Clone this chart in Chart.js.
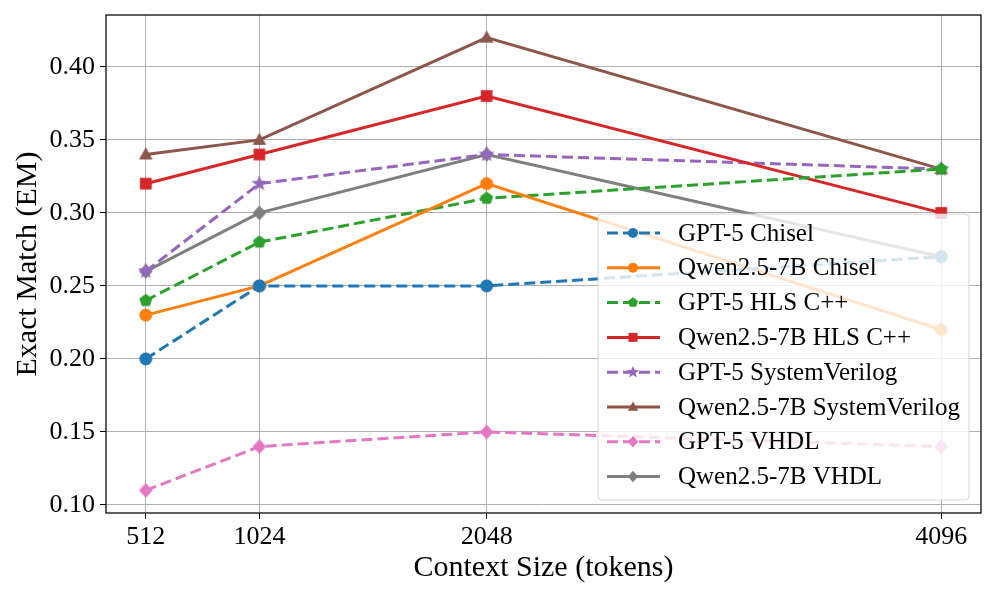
<!DOCTYPE html>
<html>
<head>
<meta charset="utf-8">
<script src="https://cdn.jsdelivr.net/npm/chart.js@4.4.1/dist/chart.umd.min.js"></script>
<style>
  html, body { margin: 0; padding: 0; background: #fff; }
  #wrap { width: 996px; height: 598px; }
</style>
</head>
<body>
<div id="wrap"><canvas id="emChart"></canvas></div>
<script>
const contextSizes = [512, 1024, 2048, 4096];
const yTicks = [0.10, 0.15, 0.20, 0.25, 0.30, 0.35, 0.40];

const gpt5Chisel = [0.20, 0.25, 0.25, 0.27];
const qwenChisel = [0.23, 0.25, 0.32, 0.22];
const gpt5Hls = [0.24, 0.28, 0.31, 0.33];
const qwenHls = [0.32, 0.34, 0.38, 0.30];
const gpt5Sv = [0.26, 0.32, 0.34, 0.33];
const qwenSv = [0.34, 0.35, 0.42, 0.33];
const gpt5Vhdl = [0.11, 0.14, 0.15, 0.14];
const qwenVhdl = [0.26, 0.30, 0.34, 0.27];

const seriesNames = ['GPT-5 Chisel', 'Qwen2.5-7B Chisel', 'GPT-5 HLS C++', 'Qwen2.5-7B HLS C++',
    'GPT-5 SystemVerilog', 'Qwen2.5-7B SystemVerilog', 'GPT-5 VHDL', 'Qwen2.5-7B VHDL'];
const seriesValues = [gpt5Chisel, qwenChisel, gpt5Hls, qwenHls, gpt5Sv, qwenSv, gpt5Vhdl, qwenVhdl];
const seriesColors = ['#1f77b4', '#ff7f0e', '#2ca02c', '#d62728', '#9467bd', '#8c564b', '#e377c2', '#7f7f7f'];
const seriesDashed = [true, false, true, false, true, false, true, false];
const seriesMarkers = ['circle', 'circle', 'pentagon', 'square', 'star', 'triangle', 'diamond', 'diamond'];

const FONT = '"Liberation Serif", "Times New Roman", serif';

// draw a marker shape centred on (x, y)
function markerPath(ctx, shape, x, y, r) {
    ctx.beginPath();
    if (shape === 'circle') {
        ctx.arc(x, y, r, 0, Math.PI * 2);
    } else if (shape === 'square') {
        ctx.rect(x - r * 0.9, y - r * 0.9, r * 1.8, r * 1.8);
    } else if (shape === 'diamond') {
        ctx.moveTo(x, y - r * 1.15); ctx.lineTo(x + r * 1.05, y); ctx.lineTo(x, y + r * 1.15); ctx.lineTo(x - r * 1.05, y);
    } else if (shape === 'triangle') {
        ctx.moveTo(x, y - r * 1.1); ctx.lineTo(x + r * 1.05, y + r * 0.75); ctx.lineTo(x - r * 1.05, y + r * 0.75);
    } else if (shape === 'pentagon') {
        for (let i = 0; i < 5; i++) {
            const a = -Math.PI / 2 + i * 2 * Math.PI / 5;
            const px = x + r * 1.05 * Math.cos(a), py = y + r * 1.05 * Math.sin(a);
            if (i === 0) ctx.moveTo(px, py); else ctx.lineTo(px, py);
        }
    } else if (shape === 'star') {
        for (let i = 0; i < 10; i++) {
            const a = -Math.PI / 2 + i * Math.PI / 5;
            const rr = i % 2 === 0 ? r * 1.3 : r * 0.55;
            const px = x + rr * Math.cos(a), py = y + rr * Math.sin(a);
            if (i === 0) ctx.moveTo(px, py); else ctx.lineTo(px, py);
        }
    }
    ctx.closePath();
}

function markerImage(shape, color, r) {
    const size = Math.ceil(r * 3);
    const c = document.createElement('canvas');
    c.width = size; c.height = size;
    const g = c.getContext('2d');
    g.fillStyle = color;
    markerPath(g, shape, size / 2, size / 2, r);
    g.fill();
    return c;
}

const datasets = seriesNames.map((name, i) => ({
    label: name,
    data: contextSizes.map((x, j) => ({ x: x, y: seriesValues[i][j] })),
    borderColor: seriesColors[i],
    backgroundColor: seriesColors[i],
    borderWidth: 3,
    borderDash: seriesDashed[i] ? [11, 5] : [],
    pointStyle: markerImage(seriesMarkers[i], seriesColors[i], 6.5),
    pointRadius: 6,
    pointHoverRadius: 6,
    tension: 0
}));

// matplotlib-style legend drawn inside the plot, plus the full frame
const legendPlugin = {
    id: 'innerLegend',
    afterDatasetsDraw(chart) {
        const ctx = chart.ctx;
        const area = chart.chartArea;
        ctx.save();
        ctx.strokeStyle = '#000';
        ctx.lineWidth = 1.25;
        ctx.strokeRect(area.left, area.top, area.right - area.left, area.bottom - area.top);

        const boxX = 598, boxY = 214, boxW = 371, boxH = 286, rad = 4;
        ctx.beginPath();
        ctx.moveTo(boxX + rad, boxY);
        ctx.arcTo(boxX + boxW, boxY, boxX + boxW, boxY + boxH, rad);
        ctx.arcTo(boxX + boxW, boxY + boxH, boxX, boxY + boxH, rad);
        ctx.arcTo(boxX, boxY + boxH, boxX, boxY, rad);
        ctx.arcTo(boxX, boxY, boxX + boxW, boxY, rad);
        ctx.closePath();
        ctx.fillStyle = 'rgba(255,255,255,0.8)';
        ctx.fill();
        ctx.strokeStyle = 'rgba(204,204,204,0.8)';
        ctx.lineWidth = 1;
        ctx.stroke();

        ctx.font = '25px ' + FONT;
        ctx.textBaseline = 'middle';
        seriesNames.forEach((name, i) => {
            const y = 233 + i * 34.8;
            ctx.strokeStyle = seriesColors[i];
            ctx.lineWidth = 3;
            ctx.setLineDash(seriesDashed[i] ? [11, 5] : []);
            ctx.beginPath();
            ctx.moveTo(607, y); ctx.lineTo(660, y);
            ctx.stroke();
            ctx.setLineDash([]);
            ctx.fillStyle = seriesColors[i];
            markerPath(ctx, seriesMarkers[i], 633, y, 5);
            ctx.fill();
            ctx.fillStyle = '#000';
            ctx.fillText(name, 678, y + 1);
        });
        ctx.restore();
    }
};

new Chart(document.getElementById('emChart'), {
    type: 'line',
    data: { datasets },
    options: {
        responsive: true,
        maintainAspectRatio: false,
        animation: false,
        devicePixelRatio: 1,
        layout: { padding: { top: 15, right: 15, left: 0, bottom: 0 } },
        plugins: { legend: { display: false }, tooltip: { enabled: false } },
        scales: {
            x: {
                type: 'linear',
                min: 332.8,
                max: 4275.2,
                afterBuildTicks: s => { s.ticks = contextSizes.map(v => ({ value: v })); },
                afterFit: s => { s.height = 85; s.paddingLeft = 0; s.paddingRight = 0; },
                ticks: { color: '#000', font: { family: FONT, size: 26 }, padding: 3, maxRotation: 0,
                    callback: v => String(v) },
                grid: { color: '#b0b0b0', lineWidth: 1, tickLength: 6, tickColor: '#000' },
                border: { display: false },
                title: { display: true, text: 'Context Size (tokens)', color: '#000',
                    font: { family: FONT, size: 30 }, padding: { top: 0, bottom: 12 } }
            },
            y: {
                min: 0.0945,
                max: 0.4355,
                afterBuildTicks: s => { s.ticks = yTicks.map(v => ({ value: v })); },
                afterFit: s => { s.width = 106; s.paddingTop = 0; s.paddingBottom = 0; },
                ticks: { color: '#000', font: { family: FONT, size: 26 }, padding: 5,
                    callback: v => v.toFixed(2) },
                grid: { color: '#b0b0b0', lineWidth: 1, tickLength: 6, tickColor: '#000' },
                border: { display: false },
                title: { display: true, text: 'Exact Match (EM)', color: '#000',
                    font: { family: FONT, size: 30 }, padding: { top: 10, bottom: 0 } }
            }
        }
    },
    plugins: [legendPlugin]
});
</script>
</body>
</html>
